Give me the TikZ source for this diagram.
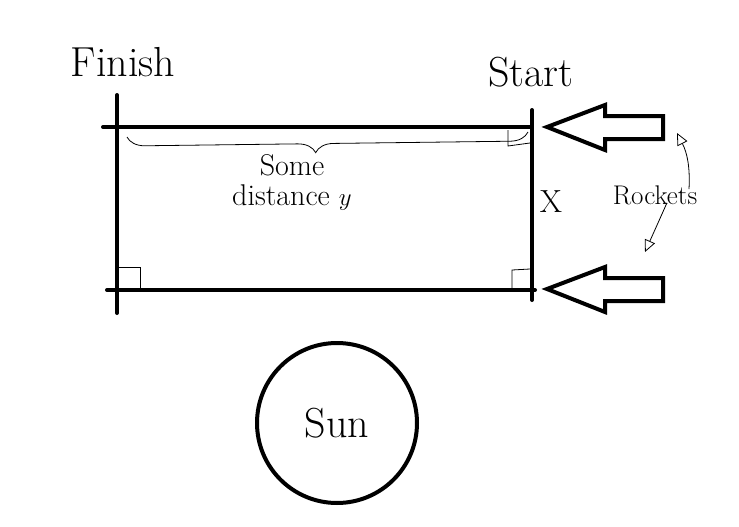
\documentclass[tikz,border=0pt]{standalone}
\usepackage{amsmath}
\usetikzlibrary{decorations.pathreplacing}
\usetikzlibrary{arrows.meta}
\tikzset{bold/.style={line width=4pt, line cap=round, line join=round}}
\tikzset{pen/.style={line width=0.8pt}}

\begin{document}
\begin{tikzpicture}[x=1pt,y=-1pt]
	% Default action for each node
	\tikzstyle{every node}=[inner sep=0pt, font=\fontsize{42}{46}\selectfont];

	\useasboundingbox[fill=white] (0,0) rectangle (739,527);

	\coordinate (finishtop) at (117,95);	\coordinate (starttop) at (532,110);
	\coordinate (westup) at (103,127);		\coordinate (eastup) at (530,127);
	\coordinate (westdown) at (107,290);	\coordinate (eastdown) at (535,290);
	\coordinate (finishbottom) at (117,313);	\coordinate (startbottom) at (532,300);

	\node (finish) at (123,62) {Finish};
	\node (start) at (531,72) {Start};
	\node[font=\fontsize{32}{36}\selectfont] (x) at (551,202) {X};
	\node[font=\fontsize{27}{30}\selectfont] (rockets) at (655,195) {Rockets};
	\node[font=\fontsize{30}{30}\selectfont, align=center] (distance) at (292,182) {Some\\distance $y$};

	% Horizontals
	\draw[bold] (westup) -- (eastup);
	\draw[bold] (westdown) -- (eastdown);

	% Verticals
	\draw[bold] (finishtop) -- (finishbottom);
	\draw[bold] (starttop) -- (startbottom);

	% Right angles
	\draw[pen] (119,267) -- (140,267) -- (140,288);
	\draw[pen] (512,290) -- (512,270) -- (530,269);
	\draw[pen] (508,130) -- (508,146) -- (530,143);

	% Brace
	\draw[pen, decorate, decoration={brace, mirror, amplitude=18pt, aspect=0.47}] (127,137) -- (528,132);

	% Rockets
	\foreach \y/\name in {127/upper, 289/lower}{
		\draw[bold, line join=miter] (547,\y) -- (605,\y-22) -- (605,\y-11) -- (663,\y-11) -- (663,\y+12) -- (605,\y+12) -- (605,\y+23) -- cycle;
	}
	\coordinate (uppertip) at (677,133);
	\coordinate (lowertip) at (645,252);
	\draw[pen, -{Triangle[open, length=12pt, width=11pt]}] ([xshift=34pt,yshift=-4pt]rockets.north) to[bend right=15] (uppertip);
	\draw[pen, -{Triangle[open, length=12pt, width=11pt]}] ([xshift=12pt,yshift=2pt]rockets.south) -- (lowertip);

	% Sun
	\node[draw, bold, circle, minimum size=160pt] (sun) at (337,423) {Sun};
\end{tikzpicture}
\end{document}
